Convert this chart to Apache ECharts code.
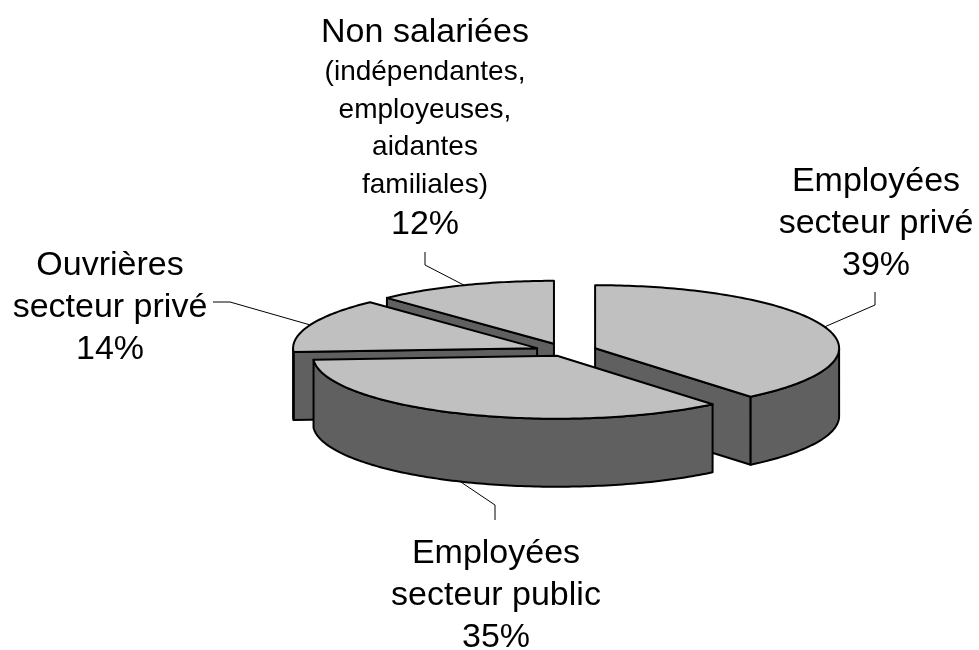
<!DOCTYPE html>
<html>
<head>
<meta charset="utf-8">
<script src="https://cdn.jsdelivr.net/npm/echarts@6/dist/echarts.min.js"></script>
<style>html,body{margin:0;padding:0;background:#fff}#main{width:979px;height:650px}</style>
</head>
<body>
<div id="main"></div>
<script>
// répartition des femmes actives (en %)
var names = ['Employées\nsecteur privé', 'Employées\nsecteur public', 'Ouvrières\nsecteur privé', 'Non salariées'];
var notes = ['', '', '', '(indépendantes,\nemployeuses,\naidantes\nfamiliales)'];
var values = [39, 35, 14, 12];

// mise en page du camembert "3D"
var pie = {cx: 565, cy: 351, rx: 244, ry: 63, depth: 68};
var explode = [32, 20, 30, 30];
var labelX = [876, 496, 110, 425];
var labelTop = [161, 533, 245, 12];
var elbow = [[875, 305], [495, 505], [230, 302], [425, 265]];
var leaderEnd = [[875, 292], [495, 520], [213, 302], [425, 252]];
var font = 'Liberation Sans, Arial, sans-serif';

var total = 0;
for (var i = 0; i < values.length; i++) total += values[i];
var startAng = [], endAng = [];
var acc = 0;
for (var i = 0; i < values.length; i++) {
	startAng[i] = acc / total * 360;
	acc += values[i];
	endAng[i] = acc / total * 360;
}

function rad(d) { return d * Math.PI / 180; }
// point du bord de l'ellipse, angle compté depuis midi dans le sens horaire
function rim(o, a, dy) {
	return [o[0] + pie.rx * Math.sin(rad(a)), o[1] - pie.ry * Math.cos(rad(a)) + (dy || 0)];
}
function arc(o, a, b, dy) {
	var pts = [];
	var n = Math.max(2, Math.ceil(Math.abs(b - a)));
	for (var k = 0; k <= n; k++) pts.push(rim(o, a + (b - a) * k / n, dy));
	return pts;
}

function renderItem(params, api) {
	var i = params.dataIndex;
	var a = startAng[i], b = endAng[i], m = (a + b) / 2;
	var e = explode[i];
	var o = [pie.cx + e * Math.sin(rad(m)), pie.cy - e * Math.cos(rad(m)) * pie.ry / pie.rx];
	var h = pie.depth;
	// tranches de l'arrière vers l'avant
	var z = Math.round((1 - Math.cos(rad(m))) * 10) * 10;
	var kids = [];
	function poly(pts, fill, zz) {
		kids.push({type: 'polygon', shape: {points: pts}, z2: zz,
			style: {fill: fill, stroke: '#000', lineWidth: 2, lineJoin: 'round'}});
	}
	// faces radiales visibles
	[a, b].forEach(function(t, j) {
		var s = Math.sin(rad(t));
		var vis = j === 0 ? s < -1e-6 : s > 1e-6;
		if (!vis) return;
		var p = rim(o, t);
		poly([o, p, [p[0], p[1] + h], [o[0], o[1] + h]], '#606060', z + 1);
	});
	// bord extérieur (partie avant)
	var fa = Math.max(a, 90), fb = Math.min(b, 270);
	if (fb > fa) {
		poly(arc(o, fa, fb, 0).concat(arc(o, fb, fa, h)), '#606060', z + 2);
	}
	// dessus
	poly([o].concat(arc(o, a, b, 0)), '#c0c0c0', z + 3);

	// trait de rappel
	var p0 = rim(o, m, Math.cos(rad(m)) < 0 ? h : 0);
	kids.push({type: 'polyline', z2: 300, shape: {points: [p0, elbow[i], leaderEnd[i]]},
		style: {stroke: '#000', lineWidth: 1, fill: null}});

	// étiquette
	var lines = names[i].split('\n').map(function(s) { return '{a|' + s + '}'; });
	if (notes[i]) notes[i].split('\n').forEach(function(s) { lines.push('{b|' + s + '}'); });
	lines.push('{a|' + Math.round(api.value(0) / total * 100) + '%}');
	kids.push({type: 'text', x: labelX[i], y: labelTop[i], z2: 300,
		style: {text: lines.join('\n'), align: 'center', verticalAlign: 'top', fill: '#000',
			rich: {
				a: {fontSize: 34, lineHeight: 42, fontFamily: font, fill: '#000'},
				b: {fontSize: 28, lineHeight: 37.5, fontFamily: font, fill: '#000'}
			}}});
	return {type: 'group', children: kids};
}

var myChart = echarts.init(document.getElementById('main'), null, {renderer: 'canvas'});
var option = {
	backgroundColor: '#fff',
	animation: false,
	series: [{
		type: 'custom',
		coordinateSystem: 'none',
		silent: true,
		renderItem: renderItem,
		data: values
	}]
};
myChart.setOption(option);
</script>
</body>
</html>
